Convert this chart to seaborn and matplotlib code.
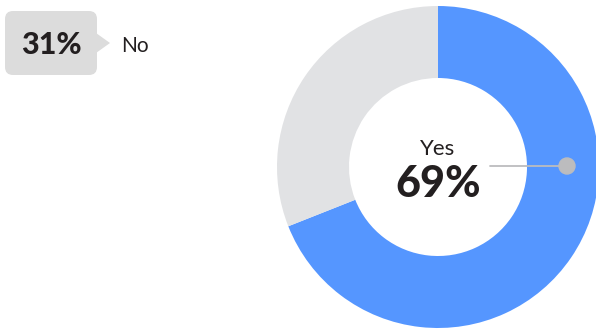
import matplotlib
matplotlib.use("Agg")
import matplotlib.pyplot as plt
import seaborn as sns
from matplotlib.patches import FancyBboxPatch, Polygon, Circle

labels = ["Yes", "No"]
shares = [69, 31]
colors = ["#5596ff", "#e1e2e4"]

sns.set_theme(style="white")
plt.rcParams["font.family"] = ["Lato", "DejaVu Sans"]

W, H = 596, 329
fig = plt.figure(figsize=(W / 100, H / 100), dpi=100)
ax = fig.add_axes([0, 0, 1, 1])

cx, cy = 438, H - 167
outer, inner = 161, 89

ax.pie(shares, colors=colors, startangle=90, counterclock=False,
       center=(cx, cy), radius=outer, frame=True,
       wedgeprops=dict(width=outer - inner, linewidth=0))
ax.set_xlim(0, W)
ax.set_ylim(0, H)
ax.set_aspect("equal")
ax.axis("off")

ink = "#231f20"

# centre label for the main slice
ax.text(cx, H - 149, labels[0], ha="center", va="center", fontsize=16, color=ink)
ax.text(cx, H - 184, f"{shares[0]}%", ha="center", va="center",
        fontsize=31, fontweight="black", color=ink)

# leader line from the label into the ring
ax.plot([490, 567], [H - 166, H - 166], color="#bcbcbe", lw=1.3, zorder=3)
ax.add_patch(Circle((567, H - 166), 8, color="#bcbcbe", zorder=4))

# callout for the smaller slice
box = FancyBboxPatch((5, H - 75), 92, 64,
                     boxstyle="round,pad=0,rounding_size=8",
                     facecolor="#dcdcdc", edgecolor="none")
ax.add_patch(box)
ax.add_patch(Polygon([(96, H - 33), (110, H - 43), (96, H - 53)],
                     closed=True, facecolor="#dcdcdc", edgecolor="none"))
ax.text(51, H - 45, f"{shares[1]}%", ha="center", va="center",
        fontsize=22, fontweight="black", color=ink)
ax.text(121, H - 46, labels[1], ha="left", va="center", fontsize=15, color=ink)

fig.savefig("out.png", dpi=100)
